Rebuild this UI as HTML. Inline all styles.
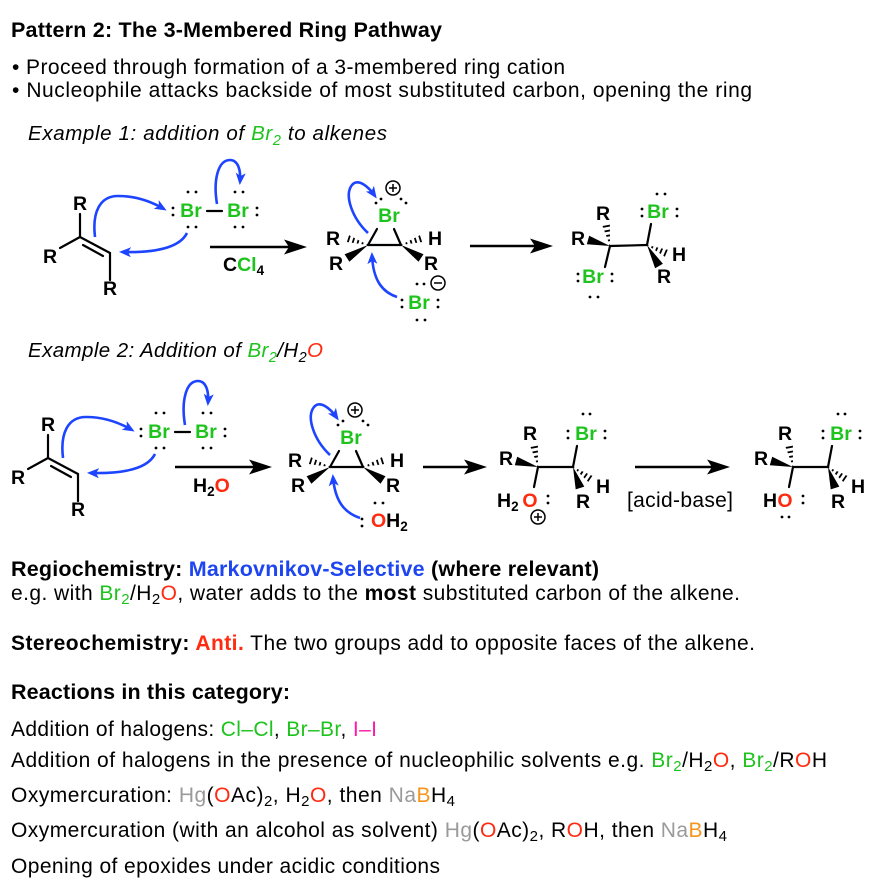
<!DOCTYPE html>
<html><head><meta charset="utf-8">
<style>
html,body{margin:0;padding:0;background:#fff;}
svg{display:block;}
text{font-family:"Liberation Sans",Arial,Helvetica,sans-serif;fill:#000;}
.c{font-weight:bold;font-size:19.5px;text-anchor:middle;}
.s{text-anchor:start;}
.b{stroke:#000;stroke-width:2.2;stroke-linecap:round;fill:none;}
.a{stroke:#1d44ff;stroke-width:2.6;fill:none;marker-end:url(#bh);}
.k{stroke:#000;stroke-width:2.5;fill:none;}
.g{fill:#1ec31e;}
.r{fill:#ff2a10;}
.y{fill:#9a9a9a;}
.o{fill:#f7941d;}
.m{fill:#ff1aa6;}
.bl{fill:#1e46f0;}
.hc{stroke:#000;stroke-width:1.5;fill:none;}
</style></head><body>
<svg width="874" height="890" viewBox="0 0 874 890" xmlns="http://www.w3.org/2000/svg">
<defs>
<marker id="bh" viewBox="0 0 12 10" refX="9" refY="5" markerWidth="12" markerHeight="10" markerUnits="userSpaceOnUse" orient="auto"><path d="M0,0 L12,5 L0,10 L3,5 Z" fill="#1d44ff"/></marker>
<clipPath id="h1"><polygon points="368,245 347.2,234.2 344.8,241.8"/></clipPath>
<clipPath id="h3"><polygon points="401,245 424.2,241.8 421.8,234.2"/></clipPath>
<clipPath id="h5"><polygon points="610,246 609.9,223.3 602.1,224.7"/></clipPath>
<clipPath id="h7"><polygon points="647,245 666.4,257.7 669.6,250.3"/></clipPath>
<clipPath id="h9"><polygon points="538,467 537.9,444.3 530.1,445.7"/></clipPath>
<clipPath id="h10"><polygon points="573,467 589.7,483.3 594.3,476.7"/></clipPath>
</defs>

<!-- Header text -->
<text x="11" y="37" font-size="21.5" font-weight="bold" textLength="431">Pattern 2: The 3-Membered Ring Pathway</text>
<text x="12" y="74" font-size="21" textLength="553">• Proceed through formation of a 3-membered ring cation</text>
<text x="12" y="97" font-size="21" textLength="740">• Nucleophile attacks backside of most substituted carbon, opening the ring</text>
<text x="28" y="140" font-size="20.5" font-style="italic" textLength="359">Example 1: addition of <tspan class="g">Br</tspan><tspan class="g" font-size="14.5" dy="5">2</tspan><tspan dy="-5"> to alkenes</tspan></text>

<!-- ===== Example 1 ===== -->
<g id="alk1">
<line class="b" x1="80" y1="237" x2="80" y2="214"/>
<line class="b" x1="80" y1="237" x2="60" y2="248"/>
<line class="b" x1="80" y1="237" x2="110" y2="253"/>
<line class="b" x1="83" y1="245" x2="103" y2="256"/>
<line class="b" x1="110" y1="253" x2="110" y2="280"/>
<text class="c" x="80" y="210">R</text>
<text class="c" x="50" y="263">R</text>
<text class="c" x="110" y="295">R</text>
<text class="c g" x="191" y="217">Br</text>
<text class="c g" x="238" y="217">Br</text>
<line class="b" x1="207" y1="211" x2="222" y2="211"/>
<g fill="#000">
<circle cx="173" cy="208" r="1.4"/><circle cx="173" cy="215" r="1.4"/>
<circle cx="188" cy="192" r="1.4"/><circle cx="196" cy="192" r="1.4"/>
<circle cx="188" cy="227" r="1.4"/><circle cx="196" cy="227" r="1.4"/>
<circle cx="235" cy="192" r="1.4"/><circle cx="243" cy="192" r="1.4"/>
<circle cx="235" cy="227" r="1.4"/><circle cx="243" cy="227" r="1.4"/>
<circle cx="257" cy="208" r="1.4"/><circle cx="257" cy="215" r="1.4"/>
</g>
<path class="a" d="M95,237 C92,212 100,196 118,196 C136,196 152,202 164,209"/>
<path class="a" d="M187,233 C180,247 158,253 122,252"/>
<path class="a" d="M217,204 C213,180 218,160 230,160 C238,160 241,170 240,182"/>
</g>

<!-- arrow 1 -->
<line class="k" x1="210" y1="247" x2="291" y2="247"/>
<polygon points="307,247 284,239.5 289,247 284,254.5" fill="#000"/>
<text class="c s" x="223" y="271">C<tspan class="g">Cl</tspan><tspan font-size="13.5" dy="4">4</tspan></text>

<!-- bromonium ex1 -->
<g id="brom1">
<text class="c g" x="389" y="222">Br</text>
<circle class="hc" cx="393" cy="188" r="7"/>
<path d="M389,188h8M393,184v8" stroke="#000" stroke-width="1.5"/>
<g fill="#000">
<circle cx="376" cy="203" r="1.4"/><circle cx="381" cy="199" r="1.4"/>
<circle cx="401" cy="199" r="1.4"/><circle cx="406" cy="203" r="1.4"/>
</g>
<line class="b" x1="368" y1="245" x2="401" y2="245"/>
<line class="b" x1="368" y1="245" x2="377" y2="229"/>
<line class="b" x1="401" y1="245" x2="394" y2="229"/>
<line x1="368" y1="245" x2="346" y2="238" stroke="#000" stroke-width="10" stroke-dasharray="1.8 3" clip-path="url(#h1)"/>
<polygon points="368,245 344.6,254.2 349.4,261.8" fill="#000"/>
<line x1="401" y1="245" x2="423" y2="238" stroke="#000" stroke-width="10" stroke-dasharray="1.8 3" clip-path="url(#h3)"/>
<polygon points="401,245 418.5,261.8 423.5,254.2" fill="#000"/>
<text class="c" x="333" y="245">R</text>
<text class="c" x="336" y="270">R</text>
<text class="c" x="435" y="245">H</text>
<text class="c" x="431" y="270">R</text>
<path class="a" d="M368,233 C352,218 344,195 352,185 C358,178 368,186 375,196"/>
<path class="a" d="M397,297 C382,292 373,280 372,255"/>
</g>

<!-- Br- -->
<text class="c g" x="419" y="309">Br</text>
<g fill="#000">
<circle cx="402" cy="300" r="1.4"/><circle cx="402" cy="307" r="1.4"/>
<circle cx="417" cy="284" r="1.4"/><circle cx="424" cy="284" r="1.4"/>
<circle cx="417" cy="320" r="1.4"/><circle cx="425" cy="320" r="1.4"/>
<circle cx="438" cy="300" r="1.4"/><circle cx="438" cy="307" r="1.4"/>
</g>
<circle class="hc" cx="438" cy="283" r="7"/>
<path d="M434,283h8" stroke="#000" stroke-width="1.5"/>

<!-- arrow 2 -->
<line class="k" x1="470" y1="246" x2="537" y2="246"/>
<polygon points="553,246 530,238.5 535,246 530,253.5" fill="#000"/>

<!-- product ex1 -->
<line class="b" x1="610" y1="246" x2="647" y2="245"/>
<line class="b" x1="610" y1="246" x2="605" y2="267"/>
<line class="b" x1="647" y1="245" x2="651" y2="224"/>
<line x1="610" y1="246" x2="606" y2="224" stroke="#000" stroke-width="10" stroke-dasharray="1.8 3" clip-path="url(#h5)"/>
<polygon points="610,246 589.2,235.7 586.8,244.3" fill="#000"/>
<line x1="647" y1="245" x2="668" y2="254" stroke="#000" stroke-width="10" stroke-dasharray="1.8 3" clip-path="url(#h7)"/>
<polygon points="647,245 655.1,268.2 662.9,263.8" fill="#000"/>
<text class="c" x="603" y="220">R</text>
<text class="c" x="578" y="245">R</text>
<text class="c g" x="593" y="283">Br</text>
<text class="c g" x="658" y="218">Br</text>
<text class="c" x="679" y="261">H</text>
<text class="c" x="664" y="283">R</text>
<g fill="#000">
<circle cx="578" cy="274" r="1.4"/><circle cx="578" cy="281" r="1.4"/>
<circle cx="612" cy="274" r="1.4"/><circle cx="612" cy="281" r="1.4"/>
<circle cx="590" cy="297" r="1.4"/><circle cx="598" cy="297" r="1.4"/>
<circle cx="642" cy="209" r="1.4"/><circle cx="642" cy="216" r="1.4"/>
<circle cx="677" cy="209" r="1.4"/><circle cx="677" cy="216" r="1.4"/>
<circle cx="657" cy="194" r="1.4"/><circle cx="665" cy="194" r="1.4"/>
</g>

<!-- ===== Example 2 ===== -->
<text x="28" y="357" font-size="20.5" font-style="italic" textLength="295">Example 2: Addition of <tspan class="g">Br</tspan><tspan class="g" font-size="14.5" dy="5">2</tspan><tspan dy="-5">/H</tspan><tspan font-size="14.5" dy="5">2</tspan><tspan class="r" dy="-5">O</tspan></text>

<g transform="translate(-32,221)">
<line class="b" x1="80" y1="237" x2="80" y2="214"/>
<line class="b" x1="80" y1="237" x2="60" y2="248"/>
<line class="b" x1="80" y1="237" x2="110" y2="253"/>
<line class="b" x1="83" y1="245" x2="103" y2="256"/>
<line class="b" x1="110" y1="253" x2="110" y2="280"/>
<text class="c" x="80" y="210">R</text>
<text class="c" x="50" y="263">R</text>
<text class="c" x="110" y="295">R</text>
<text class="c g" x="191" y="217">Br</text>
<text class="c g" x="238" y="217">Br</text>
<line class="b" x1="207" y1="211" x2="222" y2="211"/>
<g fill="#000">
<circle cx="173" cy="208" r="1.4"/><circle cx="173" cy="215" r="1.4"/>
<circle cx="188" cy="192" r="1.4"/><circle cx="196" cy="192" r="1.4"/>
<circle cx="188" cy="227" r="1.4"/><circle cx="196" cy="227" r="1.4"/>
<circle cx="235" cy="192" r="1.4"/><circle cx="243" cy="192" r="1.4"/>
<circle cx="235" cy="227" r="1.4"/><circle cx="243" cy="227" r="1.4"/>
<circle cx="257" cy="208" r="1.4"/><circle cx="257" cy="215" r="1.4"/>
</g>
<path class="a" d="M95,237 C92,212 100,196 118,196 C136,196 152,202 164,209"/>
<path class="a" d="M187,233 C180,247 158,253 122,252"/>
<path class="a" d="M217,204 C213,180 218,160 230,160 C238,160 241,170 240,182"/>
</g>

<!-- arrow 3 -->
<line class="k" x1="175" y1="467" x2="256" y2="467"/>
<polygon points="272,467 249,459.5 254,467 249,474.5" fill="#000"/>
<text class="c s" x="193" y="492">H<tspan font-size="13.5" dy="4">2</tspan><tspan class="r" dy="-4">O</tspan></text>

<!-- bromonium ex2 -->
<g transform="translate(-38,222)">
<text class="c g" x="389" y="222">Br</text>
<circle class="hc" cx="393" cy="188" r="7"/>
<path d="M389,188h8M393,184v8" stroke="#000" stroke-width="1.5"/>
<g fill="#000">
<circle cx="376" cy="203" r="1.4"/><circle cx="381" cy="199" r="1.4"/>
<circle cx="401" cy="199" r="1.4"/><circle cx="406" cy="203" r="1.4"/>
</g>
<line class="b" x1="368" y1="245" x2="401" y2="245"/>
<line class="b" x1="368" y1="245" x2="377" y2="229"/>
<line class="b" x1="401" y1="245" x2="394" y2="229"/>
<line x1="368" y1="245" x2="346" y2="238" stroke="#000" stroke-width="10" stroke-dasharray="1.8 3" clip-path="url(#h1)"/>
<polygon points="368,245 344.6,254.2 349.4,261.8" fill="#000"/>
<line x1="401" y1="245" x2="423" y2="238" stroke="#000" stroke-width="10" stroke-dasharray="1.8 3" clip-path="url(#h3)"/>
<polygon points="401,245 418.5,261.8 423.5,254.2" fill="#000"/>
<text class="c" x="333" y="245">R</text>
<text class="c" x="336" y="270">R</text>
<text class="c" x="435" y="245">H</text>
<text class="c" x="431" y="270">R</text>
<path class="a" d="M368,233 C352,218 344,195 352,185 C358,178 368,186 375,196"/>
<path class="a" d="M398,296 C383,291 373,280 371,255"/>
</g>

<!-- :OH2 -->
<g fill="#000">
<circle cx="362" cy="519" r="1.4"/><circle cx="362" cy="526" r="1.4"/>
<circle cx="375" cy="503" r="1.4"/><circle cx="383" cy="503" r="1.4"/>
</g>
<text class="c s" x="371" y="527"><tspan class="r">O</tspan>H<tspan font-size="13.5" dy="4">2</tspan></text>

<!-- arrow 4 -->
<line class="k" x1="423" y1="467" x2="471" y2="467"/>
<polygon points="487,467 464,459.5 469,467 464,474.5" fill="#000"/>

<!-- product 1 ex2 -->
<g>
<line class="b" x1="538" y1="467" x2="573" y2="467"/>
<line class="b" x1="538" y1="467" x2="534" y2="487"/>
<line class="b" x1="573" y1="467" x2="577" y2="446"/>
<line x1="538" y1="467" x2="534" y2="445" stroke="#000" stroke-width="10" stroke-dasharray="1.8 3" clip-path="url(#h9)"/>
<polygon points="538,467 517.2,456.7 514.8,465.3" fill="#000"/>
<line x1="573" y1="467" x2="592" y2="480" stroke="#000" stroke-width="10" stroke-dasharray="1.8 3" clip-path="url(#h10)"/>
<polygon points="573,467 575.7,489.4 584.3,486.6" fill="#000"/>
<text class="c" x="530" y="440">R</text>
<text class="c" x="506" y="465">R</text>
<text class="c g" x="586" y="440">Br</text>
<text class="c" x="603" y="493">H</text>
<text class="c" x="583" y="508">R</text>
<g fill="#000">
<circle cx="568" cy="431" r="1.4"/><circle cx="568" cy="438" r="1.4"/>
<circle cx="605" cy="431" r="1.4"/><circle cx="605" cy="438" r="1.4"/>
<circle cx="583" cy="414" r="1.4"/><circle cx="590" cy="414" r="1.4"/>
<circle cx="548" cy="496" r="1.4"/><circle cx="548" cy="503" r="1.4"/>
</g>
</g>
<text class="c s" x="497" y="507">H<tspan font-size="13.5" dy="4">2</tspan></text>
<text class="c r" x="530" y="507">O</text>
<circle class="hc" cx="538" cy="517" r="7"/>
<path d="M534,517h8M538,513v8" stroke="#000" stroke-width="1.5"/>

<text x="627" y="507" font-size="21" textLength="106">[acid-base]</text>
<line class="k" x1="635" y1="467" x2="714" y2="467"/>
<polygon points="730,467 707,459.5 712,467 707,474.5" fill="#000"/>

<!-- product 2 ex2 -->
<g transform="translate(255,0)">
<line class="b" x1="538" y1="467" x2="573" y2="467"/>
<line class="b" x1="538" y1="467" x2="534" y2="487"/>
<line class="b" x1="573" y1="467" x2="577" y2="446"/>
<line x1="538" y1="467" x2="534" y2="445" stroke="#000" stroke-width="10" stroke-dasharray="1.8 3" clip-path="url(#h9)"/>
<polygon points="538,467 517.2,456.7 514.8,465.3" fill="#000"/>
<line x1="573" y1="467" x2="592" y2="480" stroke="#000" stroke-width="10" stroke-dasharray="1.8 3" clip-path="url(#h10)"/>
<polygon points="573,467 575.7,489.4 584.3,486.6" fill="#000"/>
<text class="c" x="530" y="440">R</text>
<text class="c" x="506" y="465">R</text>
<text class="c g" x="586" y="440">Br</text>
<text class="c" x="603" y="493">H</text>
<text class="c" x="583" y="508">R</text>
<g fill="#000">
<circle cx="568" cy="431" r="1.4"/><circle cx="568" cy="438" r="1.4"/>
<circle cx="605" cy="431" r="1.4"/><circle cx="605" cy="438" r="1.4"/>
<circle cx="583" cy="414" r="1.4"/><circle cx="590" cy="414" r="1.4"/>
<circle cx="548" cy="496" r="1.4"/><circle cx="548" cy="503" r="1.4"/>
<circle cx="527" cy="517" r="1.4"/><circle cx="534" cy="517" r="1.4"/>
</g>
<text class="c" x="515" y="507">H</text>
<text class="c r" x="530" y="507">O</text>
</g>

<!-- Bottom text -->
<text x="11" y="576" font-size="21.5" font-weight="bold" textLength="588">Regiochemistry: <tspan class="bl">Markovnikov-Selective</tspan> (where relevant)</text>
<text x="11" y="600" font-size="21" textLength="729">e.g. with <tspan class="g">Br</tspan><tspan class="g" font-size="15" dy="4">2</tspan><tspan dy="-4">/H</tspan><tspan font-size="15" dy="4">2</tspan><tspan class="r" dy="-4">O</tspan>, water adds to the <tspan font-weight="bold">most</tspan> substituted carbon of the alkene.</text>
<text x="11" y="650" font-size="21" textLength="744"><tspan font-weight="bold">Stereochemistry: </tspan><tspan class="r" font-weight="bold">Anti.</tspan> The two groups add to opposite faces of the alkene.</text>
<text x="11" y="699" font-size="21.5" font-weight="bold" textLength="279">Reactions in this category:</text>

<text x="11" y="736" font-size="21" textLength="366">Addition of halogens: <tspan class="g">Cl–Cl</tspan>, <tspan class="g">Br–Br</tspan>, <tspan class="m">I–I</tspan></text>
<text x="11" y="767" font-size="21" textLength="816">Addition of halogens in the presence of nucleophilic solvents e.g. <tspan class="g">Br</tspan><tspan class="g" font-size="15" dy="4">2</tspan><tspan dy="-4">/H</tspan><tspan font-size="15" dy="4">2</tspan><tspan class="r" dy="-4">O</tspan>, <tspan class="g">Br</tspan><tspan class="g" font-size="15" dy="4">2</tspan><tspan dy="-4">/R</tspan><tspan class="r">O</tspan>H</text>
<text x="11" y="802" font-size="21" textLength="444">Oxymercuration: <tspan class="y">Hg</tspan>(<tspan class="r">O</tspan>Ac)<tspan font-size="15" dy="4">2</tspan><tspan dy="-4">, H</tspan><tspan font-size="15" dy="4">2</tspan><tspan class="r" dy="-4">O</tspan>, then <tspan class="y">Na</tspan><tspan class="o">B</tspan>H<tspan font-size="15" dy="4">4</tspan></text>
<text x="11" y="837" font-size="21" textLength="716">Oxymercuration (with an alcohol as solvent) <tspan class="y">Hg</tspan>(<tspan class="r">O</tspan>Ac)<tspan font-size="15" dy="4">2</tspan><tspan dy="-4">, R</tspan><tspan class="r">O</tspan>H, then <tspan class="y">Na</tspan><tspan class="o">B</tspan>H<tspan font-size="15" dy="4">4</tspan></text>
<text x="11" y="873" font-size="21" textLength="429">Opening of epoxides under acidic conditions</text>
</svg>
</body></html>
